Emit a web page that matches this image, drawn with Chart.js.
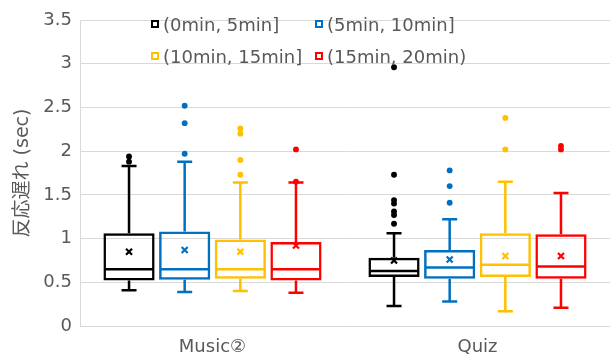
<!DOCTYPE html>
<html>
<head>
<meta charset="utf-8">
<script src="https://cdn.jsdelivr.net/npm/chart.js"></script>
<style>
  html, body { margin:0; padding:0; background:#fff; }
  #wrap { width:614px; height:358px; position:relative; }
</style>
</head>
<body>
<div id="wrap"><canvas id="chartBox"></canvas></div>
<script>
// --- box plot data (rows = series, cols = categories) ---
const categories = ['Music②', 'Quiz'];
const seriesLabels = ['(0min, 5min]', '(5min, 10min]', '(10min, 15min]', '(15min, 20min)'];
const seriesColors = ['#000000', '#0070C0', '#FFC000', '#FF0000'];

const whiskerLow  = [[0.41, 0.23], [0.39, 0.28], [0.40, 0.17], [0.38, 0.21]];
const quartile1   = [[0.52, 0.56], [0.53, 0.54], [0.54, 0.56], [0.52, 0.54]];
const medians     = [[0.65, 0.63], [0.65, 0.67], [0.65, 0.70], [0.65, 0.68]];
const quartile3   = [[1.06, 0.78], [1.08, 0.87], [0.99, 1.06], [0.96, 1.05]];
const whiskerHigh = [[1.83, 1.06], [1.88, 1.22], [1.64, 1.65], [1.64, 1.52]];
const means       = [[0.85, 0.75], [0.87, 0.76], [0.85, 0.80], [0.92, 0.80]];
const outliers = [
  [[1.88, 1.94], [2.96, 1.73, 1.44, 1.40, 1.31, 1.27, 1.17]],
  [[1.97, 2.32, 2.52], [1.41, 1.60, 1.78]],
  [[1.73, 1.90, 2.20, 2.26], [2.02, 2.38]],
  [[1.65, 2.02], [2.02, 2.06]]
];
const yTicks = { min: 0, max: 3.5, step: 0.5 };

const grey = '#595959';
const font = 'DejaVu Sans';

// whiskers, medians, means and outliers drawn on top of the floating bars
const boxExtras = {
  id: 'boxExtras',
  afterDatasetsDraw(chart) {
    const ctx = chart.ctx;
    const ys = chart.scales.y;
    seriesLabels.forEach((lab, s) => {
      const meta = chart.getDatasetMeta(s);
      meta.data.forEach((bar, i) => {
        const x = bar.x, hw = bar.width / 2;
        ctx.save();
        ctx.strokeStyle = seriesColors[s];
        ctx.fillStyle = seriesColors[s];
        ctx.lineWidth = 2.5;
        // median
        const ym = ys.getPixelForValue(medians[s][i]);
        ctx.beginPath(); ctx.moveTo(x - hw + 1, ym); ctx.lineTo(x + hw - 1, ym); ctx.stroke();
        // whiskers
        const yq1 = ys.getPixelForValue(quartile1[s][i]);
        const yq3 = ys.getPixelForValue(quartile3[s][i]);
        const ylo = ys.getPixelForValue(whiskerLow[s][i]);
        const yhi = ys.getPixelForValue(whiskerHigh[s][i]);
        ctx.beginPath();
        ctx.moveTo(x, yq3); ctx.lineTo(x, yhi);
        ctx.moveTo(x - 7.5, yhi); ctx.lineTo(x + 7.5, yhi);
        ctx.moveTo(x, yq1); ctx.lineTo(x, ylo);
        ctx.moveTo(x - 7.5, ylo); ctx.lineTo(x + 7.5, ylo);
        ctx.stroke();
        // mean cross
        const yMean = ys.getPixelForValue(means[s][i]);
        ctx.lineWidth = 2.2;
        ctx.beginPath();
        ctx.moveTo(x - 3, yMean - 3); ctx.lineTo(x + 3, yMean + 3);
        ctx.moveTo(x + 3, yMean - 3); ctx.lineTo(x - 3, yMean + 3);
        ctx.stroke();
        // outliers
        ctx.lineWidth = 1.5;
        outliers[s][i].forEach(v => {
          const yo = ys.getPixelForValue(v);
          ctx.beginPath(); ctx.arc(x, yo, 2.2, 0, Math.PI * 2); ctx.fill(); ctx.stroke();
        });
        ctx.restore();
      });
    });
  },
  afterDraw(chart) {
    // legend, two rows of two, laid over the top of the plot
    const ctx = chart.ctx;
    const cols = [151, 315];
    const rows = [24, 56];
    ctx.save();
    ctx.font = '18px "' + font + '"';
    ctx.textBaseline = 'middle';
    seriesLabels.forEach((lab, s) => {
      const lx = cols[s % 2], ly = rows[Math.floor(s / 2)];
      ctx.strokeStyle = seriesColors[s];
      ctx.lineWidth = 2;
      ctx.strokeRect(lx + 1, ly - 3, 6, 6);
      ctx.fillStyle = grey;
      ctx.fillText(lab, lx + 12, ly + 2);
    });
    ctx.restore();
  }
};

const ctxB = document.getElementById('chartBox').getContext('2d');
const chartBox = new Chart(ctxB, {
  type: 'bar',
  data: {
    labels: categories,
    datasets: seriesLabels.map((lab, s) => ({
      label: lab,
      data: categories.map((c, i) => [quartile1[s][i], quartile3[s][i]]),
      backgroundColor: 'rgba(255,255,255,0)',
      borderColor: seriesColors[s],
      borderWidth: 2.5,
      borderSkipped: false,
      categoryPercentage: 0.84,
      barPercentage: 0.92
    }))
  },
  options: {
    responsive: true,
    maintainAspectRatio: false,
    animation: false,
    layout: { padding: { top: 20, right: 4, bottom: 0, left: 0 } },
    plugins: { legend: { display: false }, tooltip: { enabled: false } },
    scales: {
      x: {
        grid: { display: false, drawTicks: false },
        border: { display: false },
        ticks: { color: grey, font: { family: font, size: 18 }, padding: 11 },
        afterFit: s => { s.height = 32; }
      },
      y: {
        min: yTicks.min, max: yTicks.max,
        grid: { color: '#d9d9d9', drawTicks: false },
        border: { color: '#d9d9d9' },
        ticks: { stepSize: yTicks.step, color: grey, font: { family: font, size: 18 }, padding: 8,
                 callback: v => String(v) },
        title: { display: true, text: '反応遅れ (sec)', color: grey,
                 font: { family: font + ', "Noto Sans CJK JP"', size: 19 }, padding: { top: 12, bottom: 0 } },
        afterFit: s => { s.width = 80; }
      }
    }
  },
  plugins: [boxExtras]
});
</script>
</body>
</html>
